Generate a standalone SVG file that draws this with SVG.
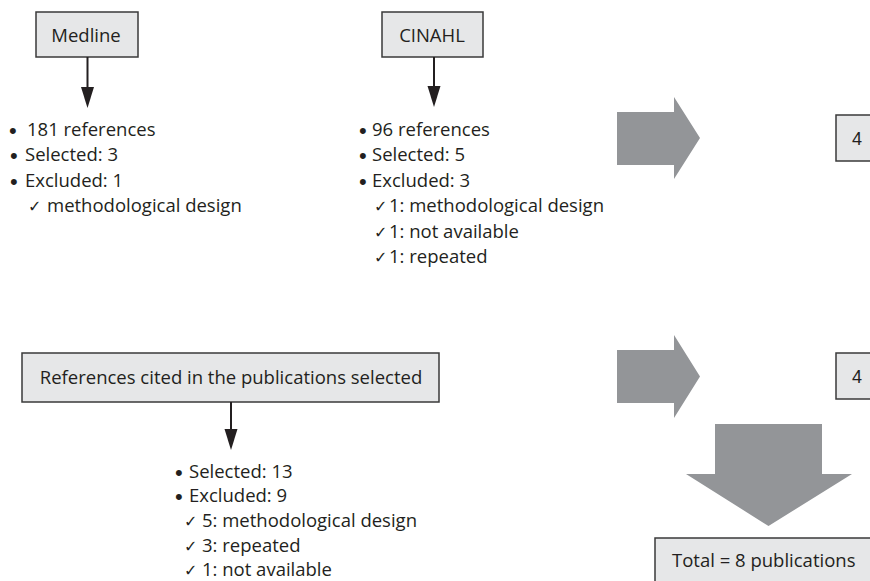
<svg xmlns="http://www.w3.org/2000/svg" width="870" height="581" viewBox="0 0 870 581">
  <style>
    .box { fill: #e6e7e8; stroke: #3a3a3a; stroke-width: 1.5; }
    .t { font-family: "Open Sans", "Noto Sans", "DejaVu Sans", sans-serif; font-size: 18.5px; fill: #231f20; }
    .c { text-anchor: middle; }
    .num { font-family: "Liberation Sans", Arial, sans-serif; font-size: 18px; fill: #231f20; }
    .chk { font-family: "DejaVu Sans", sans-serif; font-size: 16px; fill: #231f20; }
    .blt { font-family: "Liberation Sans", Arial, sans-serif; font-size: 22px; fill: #231f20; }
    .big { fill: #939598; }
    .conn line { stroke: #231f20; stroke-width: 2; }
    .conn polygon { fill: #231f20; }
  </style>

  <g id="medline">
    <rect class="box" x="36" y="12" width="102" height="45"/>
    <text class="t c" x="86" y="42">Medline</text>
  </g>
  <g id="medline-list">
    <text class="blt" x="9" y="137.5">•</text>
    <text class="t" x="27" y="135.5">181 references</text>
    <text class="blt" x="10" y="163">•</text>
    <text class="t" x="25" y="161">Selected: 3</text>
    <text class="blt" x="10" y="188.5">•</text>
    <text class="t" x="25" y="186.5">Excluded: 1</text>
    <text class="chk" x="28" y="212">✓</text>
    <text class="t" x="47" y="212">methodological design</text>
  </g>

  <g id="cinahl">
    <rect class="box" x="382" y="12" width="101" height="45"/>
    <text class="t c" x="432" y="42">CINAHL</text>
  </g>
  <g id="cinahl-list">
    <text class="blt" x="359" y="137.5">•</text>
    <text class="t" x="372" y="135.5">96 references</text>
    <text class="blt" x="359" y="163">•</text>
    <text class="t" x="372" y="161">Selected: 5</text>
    <text class="blt" x="359" y="188.5">•</text>
    <text class="t" x="372" y="186.5">Excluded: 3</text>
    <text class="chk" x="374" y="212">✓</text>
    <text class="t" x="389" y="212">1: methodological design</text>
    <text class="chk" x="374" y="237.5">✓</text>
    <text class="t" x="389" y="237.5">1: not available</text>
    <text class="chk" x="374" y="263">✓</text>
    <text class="t" x="389" y="263">1: repeated</text>
  </g>

  <g id="refs-cited">
    <rect class="box" x="22" y="353" width="417" height="49"/>
    <text class="t c" x="231" y="384">References cited in the publications selected</text>
  </g>
  <g id="refs-list">
    <text class="blt" x="175" y="479.5">•</text>
    <text class="t" x="189" y="477.5">Selected: 13</text>
    <text class="blt" x="175" y="504">•</text>
    <text class="t" x="189" y="502">Excluded: 9</text>
    <text class="chk" x="184" y="527">✓</text>
    <text class="t" x="202" y="527">5: methodological design</text>
    <text class="chk" x="184" y="551.5">✓</text>
    <text class="t" x="202" y="551.5">3: repeated</text>
    <text class="chk" x="184" y="576">✓</text>
    <text class="t" x="202" y="576">1: not available</text>
  </g>

  <g id="arrow-right-1">
    <polygon class="big" points="617,112 674,112 674,97 700,138 674,179 674,165 617,165"/>
  </g>
  <g id="arrow-right-2">
    <polygon class="big" points="617,350 674,350 674,335 700,376.5 674,418 674,403 617,403"/>
  </g>
  <g id="arrow-down">
    <polygon class="big" points="715,424 822,424 822,474 852,474 768.5,526 686,474 715,474"/>
  </g>

  <g id="count-1">
    <rect class="box" x="836" y="115" width="60" height="46"/>
    <text class="num" x="852" y="145">4</text>
  </g>
  <g id="count-2">
    <rect class="box" x="836" y="353" width="60" height="46"/>
    <text class="num" x="852" y="383">4</text>
  </g>
  <g id="total">
    <rect class="box" x="655" y="538" width="240" height="60"/>
    <text class="t" x="672" y="567">Total = 8 publications</text>
  </g>

  <g id="connectors" class="conn">
    <line x1="87.5" y1="57" x2="87.5" y2="90"/>
    <polygon points="81,87 94,87 87.5,108"/>
    <line x1="434" y1="57" x2="434" y2="89"/>
    <polygon points="427.5,86 440.5,86 434,107"/>
    <line x1="231" y1="402" x2="231" y2="432"/>
    <polygon points="224.5,429 237.5,429 231,450"/>
  </g>
</svg>
